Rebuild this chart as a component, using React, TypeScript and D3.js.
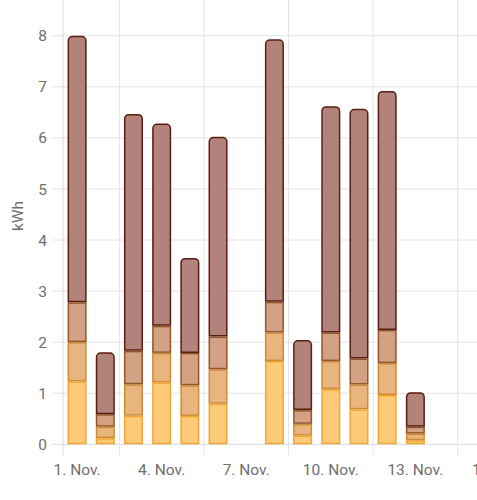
import React from "react";
import * as d3 from "d3";

const days = [1, 2, 3, 4, 5, 6, 7, 8, 9, 10, 11, 12, 13];
const series1 = [1.23, 0.12, 0.56, 1.21, 0.555, 0.795, 0, 1.63, 0.17, 1.08, 0.685, 0.965, 0.08];
const series2 = [0.77, 0.225, 0.615, 0.58, 0.6, 0.675, 0, 0.56, 0.23, 0.55, 0.485, 0.625, 0.13];
const series3 = [0.78, 0.245, 0.655, 0.53, 0.635, 0.64, 0, 0.6, 0.27, 0.56, 0.51, 0.65, 0.135];
const series4 = [5.22, 1.21, 4.64, 3.96, 1.86, 3.91, 0, 5.14, 1.37, 4.43, 4.89, 4.68, 0.675];
const yTicks = [0, 1, 2, 3, 4, 5, 6, 7, 8];
const xTickDays = [1, 4, 7, 10, 13, 16];
const xTickLabels = ["1. Nov.", "4. Nov.", "7. Nov.", "10. Nov.", "13. Nov.", "16. Nov."];
const gridDays = [0.5, 2.5, 5.5, 8.5, 11.5, 14.5, 17.5];
const yLabel = "kWh";

const fills = ["#fdca78", "#e8b57f", "#d3a285", "#b2837b"];
const strokes = ["#f3a633", "#cf8b34", "#94552a", "#5a1d12"];

const W = 477;
const H = 500;
const left = 63;
const dayW = 28.19;
const y0 = 444.3;
const unit = 51.07;

export default function App() {
  const x = d3.scaleLinear().domain([0.5, 30.5]).range([left, left + 30 * dayW]);
  const y = d3.scaleLinear().domain([0, y0 / unit]).range([y0, 0]);
  const rows = days.map((d, i) => ({ day: d, s1: series1[i], s2: series2[i], s3: series3[i], s4: series4[i] }));
  const keys = ["s1", "s2", "s3", "s4"];
  const stacked = d3.stack<any>().keys(keys)(rows);
  const bw = 0.675 * dayW;
  const font = "Roboto, 'Noto Sans', sans-serif";

  const roundTop = (x0: number, x1: number, yt: number, yb: number, r: number) => {
    const p = d3.path();
    p.moveTo(x0, yb);
    p.lineTo(x0, yt + r);
    p.arcTo(x0, yt, x0 + r, yt, r);
    p.lineTo(x1 - r, yt);
    p.arcTo(x1, yt, x1, yt + r, r);
    p.lineTo(x1, yb);
    p.closePath();
    return p.toString();
  };

  return (
    <svg width={W} height={H} style={{ position: "absolute", left: 0, top: 0 }}>
      <rect x={0} y={0} width={W} height={H} fill="#ffffff" />
      {/* horizontal grid */}
      {yTicks.map((t) => (
        <line key={"h" + t} x1={52} x2={W} y1={y(t)} y2={y(t)} stroke={t === 0 ? "#d3dbe6" : "#e4e4e4"} strokeWidth={1} />
      ))}
      {/* vertical grid */}
      {gridDays.map((g, i) => (
        <line key={"v" + g} x1={x(g)} x2={x(g)} y1={0} y2={y0 + 11} stroke={i === 0 ? "#d3dbe6" : "#e4e4e4"} strokeWidth={1} />
      ))}
      {/* bars */}
      {days.map((d, i) => {
        const cx = x(d);
        const x0 = cx - bw / 2;
        const x1 = cx + bw / 2;
        let topIdx = -1;
        stacked.forEach((s, k) => {
          if (s[i][1] - s[i][0] > 0) topIdx = k;
        });
        return (
          <g key={"b" + d}>
            {stacked.map((s, k) => {
              const v0 = s[i][0];
              const v1 = s[i][1];
              if (v1 - v0 <= 0) return null;
              const yt = y(v1) + 0.75;
              const yb = y(v0) - 0.75;
              const xa = x0 + 0.75;
              const xb = x1 - 0.75;
              if (k === topIdx) {
                return (
                  <path key={k} d={roundTop(xa, xb, yt, yb, 4)} fill={fills[k]} stroke={strokes[k]} strokeWidth={1.5} />
                );
              }
              return (
                <rect key={k} x={xa} y={yt} width={xb - xa} height={Math.max(0, yb - yt)} fill={fills[k]} stroke={strokes[k]} strokeWidth={1.5} />
              );
            })}
          </g>
        );
      })}
      {/* y tick labels */}
      {yTicks.map((t) => (
        <text key={"yl" + t} x={47} y={y(t)} dy="0.36em" textAnchor="end" fontFamily={font} fontSize={15.5} fill="#6e6e6e">
          {t}
        </text>
      ))}
      {/* x tick labels */}
      {xTickDays.map((d, i) => (
        <text key={"xl" + d} x={x(d)} y={475} textAnchor="middle" fontFamily={font} fontSize={15.5} fill="#6e6e6e">
          {xTickLabels[i]}
        </text>
      ))}
      <text transform="translate(23,216) rotate(-90)" textAnchor="middle" fontFamily={font} fontSize={15.5} fill="#6e6e6e">
        {yLabel}
      </text>
    </svg>
  );
}
